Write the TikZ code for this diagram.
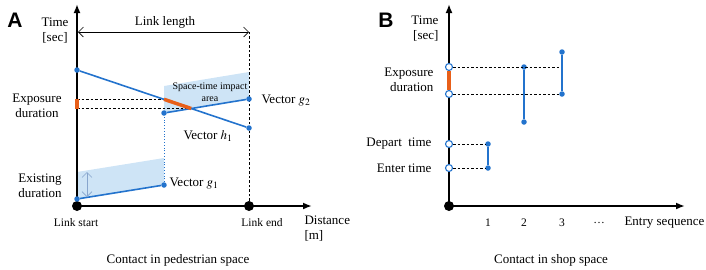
\documentclass[tikz,border=0pt]{standalone}
\usepackage{mathptmx}
\usepackage{fontspec}
\setmainfont{Liberation Serif}
\setsansfont{Liberation Sans}
\usetikzlibrary{arrows.meta, positioning}

\definecolor{vecblue}{RGB}{35,115,205}
\definecolor{areablue}{RGB}{206,228,246}
\definecolor{exporange}{RGB}{232,95,25}
\definecolor{spanblue}{RGB}{135,165,205}

\begin{document}
\begin{tikzpicture}[
    x=1pt, y=-1pt,
    every node/.style={font=\fontsize{13}{15}\selectfont},
    small/.style={font=\fontsize{11.5}{13}\selectfont},
    tiny/.style={font=\fontsize{10}{11.5}\selectfont},
    panel/.style={font=\fontsize{21}{24}\sffamily\bfseries},
    axis/.style={-{Latex[length=9pt, width=7pt]}, line width=1.8pt},
    vec/.style={vecblue, line width=1.6pt},
    guide/.style={line width=0.6pt, dash pattern=on 2.5pt off 2pt},
    span/.style={{Straight Barb[length=5pt, width=10pt]}-{Straight Barb[length=5pt, width=10pt]}, line width=0.6pt},
    dot/.style={circle, fill=vecblue, inner sep=0pt, minimum size=5.5pt},
    hollow/.style={circle, draw=vecblue, fill=white, line width=1.1pt, inner sep=0pt, minimum size=7pt},
    origin/.style={circle, fill=black, inner sep=0pt, minimum size=10pt}
]
\useasboundingbox (0,0) rectangle (706,269);

% ============ A: PEDESTRIAN SPACE ============
\begin{scope}[shift={(0,0)}]
    \node[panel] (labA) at (15,20) {A};

    % Shaded areas
    \fill[areablue] (164,86) -- (249,72) -- (249,99) -- (164,113) -- cycle;
    \fill[areablue] (77,172) -- (164,158) -- (164,185) -- (77,199) -- cycle;

    % Axes
    \coordinate (oA) at (77,206);
    \coordinate (topA) at (77,4);
    \coordinate (rightA) at (312,206);
    \coordinate (lenL) at (78,32);
    \coordinate (lenR) at (249,32);
    \draw[axis] (oA) -- (topA);
    \draw[axis] (oA) -- (rightA);
    \node[origin] (startA) at (oA) {};
    \node[origin] (endA) at (249,206) {};
    \draw[guide] (endA) -- (lenR);
    \draw[span] (lenL) -- (lenR);
    \node (lenlab) at (165,22) {Link length};

    % Exposure guides
    \coordinate (expT) at (77,99.3);
    \coordinate (expB) at (77,108.5);
    \coordinate (hitT) at (164,99.3);
    \coordinate (hitB) at (191.2,108.5);
    \draw[guide] (expT) -- (hitT);
    \draw[guide] (expB) -- (hitB);
    \draw[exporange, line width=4pt] (expT) -- (expB);

    % Vectors
    \node[dot] (h1s) at (77,70) {};
    \node[dot] (h1e) at (249,128) {};
    \node[dot] (g1s) at (77,199) {};
    \node[dot] (g1e) at (164,185) {};
    \node[dot] (g2s) at (164,113) {};
    \node[dot] (g2e) at (249,99) {};
    \draw[vec] (h1s) -- (h1e);
    \draw[vec] (g1s) -- (g1e);
    \draw[vec] (g2s) -- (g2e);
    \draw[vecblue, dotted, line width=0.8pt] (g1e) -- (g2s);
    \draw[exporange, line width=3.5pt] (hitT) -- (hitB);

    % Existing duration span
    \coordinate (exT) at (87,172);
    \coordinate (exB) at (87,197);
    \draw[span, spanblue] (exT) -- (exB);

    % Labels
    \node[align=center] (timeA) at (55,31) {Time\\{[sec]}};
    \node[align=center] (expA) at (37,106) {Exposure\\duration};
    \node[tiny, align=center] (impact) at (210,92) {Space-time impact\\area};
    \node[anchor=west] (g2lab) at (258,101) {Vector $g_2$};
    \node (h1lab) at (208,136) {Vector $h_1$};
    \node[align=center] (exist) at (40,186) {Existing\\duration};
    \node[anchor=west] (g1lab) at (166,184) {Vector $g_1$};
    \node[small] (startlab) at (76,223) {Link start};
    \node[small] (endlab) at (262,223) {Link end};
    \node[align=left, anchor=west] (distlab) at (301,229) {Distance\\{[m]}};
    \node (capA) at (178,260) {Contact in pedestrian space};
\end{scope}

% ============ B: SHOP SPACE ============
\begin{scope}[shift={(372,0)}]
    \node[panel] (labB) at (14,20) {B};

    % Axes
    \coordinate (oB) at (77,206);
    \coordinate (topB) at (77,4);
    \coordinate (rightB) at (313,206);
    \draw[axis] (oB) -- (topB);
    \draw[axis] (oB) -- (rightB);
    \node[origin] (startB) at (oB) {};

    % Exposure duration
    \coordinate (midT) at (190,67);
    \node[dot] (s2a) at (152,67) {};
    \node[dot] (s2b) at (152,122) {};
    \node[dot] (s3a) at (190,52) {};
    \node[dot] (s3b) at (190,94) {};
    \node[hollow] (bexpT) at (77,67) {};
    \node[hollow] (bexpB) at (77,94) {};
    \draw[guide] (bexpT) -- (midT);
    \draw[guide] (bexpB) -- (s3b);
    \draw[exporange, line width=3.5pt] (bexpT) -- (bexpB);
    \draw[vec] (s2a) -- (s2b);
    \draw[vec] (s3a) -- (s3b);

    % First entry
    \node[dot] (s1a) at (116,144) {};
    \node[dot] (s1b) at (116,168) {};
    \node[hollow] (depart) at (77,144) {};
    \node[hollow] (enter) at (77,168) {};
    \draw[guide] (depart) -- (s1a);
    \draw[guide] (enter) -- (s1b);
    \draw[vec] (s1a) -- (s1b);

    % Labels
    \node[align=right, anchor=east] (timeB) at (70,29) {Time\\{[sec]}};
    \node[align=right, anchor=east] (expBlab) at (65,80) {Exposure\\duration};
    \node[anchor=east] (departlab) at (63,144) {Depart~~time};
    \node[anchor=east] (enterlab) at (63,168) {Enter time};
    \node[small] (t1) at (116,223) {1};
    \node[small] (t2) at (152,223) {2};
    \node[small] (t3) at (190,223) {3};
    \node[small] (tdots) at (227,223) {\dots};
    \node[anchor=west] (seqlab) at (249,223) {Entry sequence};
    \node (capB) at (179,260) {Contact in shop space};
\end{scope}

\end{tikzpicture}
\end{document}
